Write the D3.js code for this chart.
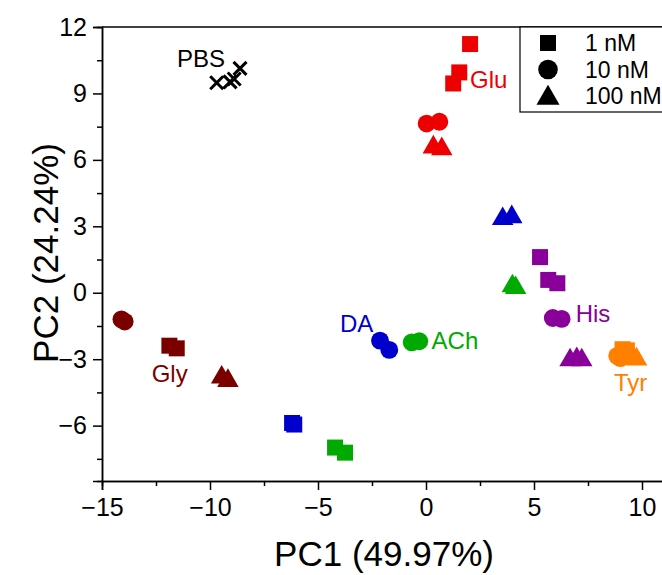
<!DOCTYPE html>
<html>
<head>
<meta charset="utf-8">
<script src="https://cdn.jsdelivr.net/npm/d3@7"></script>
<style>
  body { margin: 0; background: #fff; }
  svg { display: block; font-family: "Liberation Sans", Arial, sans-serif; }
</style>
</head>
<body>
<svg id="chart" width="662" height="575"></svg>
<script>
/* PCA score plot - neurotransmitters at 3 concentrations */

// analyte colours
var analytes = ["PBS", "Glu", "Gly", "DA", "ACh", "His", "Tyr"];
var colors = ["#000000", "#ee0000", "#7a0000", "#0000cc", "#00aa00", "#880099", "#ff8000"];

// [analyte, PC1, PC2]
var pbs = [
  ["PBS", -9.69, 9.48], ["PBS", -9.07, 9.52], ["PBS", -8.88, 9.65], ["PBS", -8.61, 10.13]
];
var nM1 = [
  ["Glu", 2.04, 11.23], ["Glu", 1.54, 9.95], ["Glu", 1.26, 9.45],
  ["Gly", -11.88, -2.39], ["Gly", -11.54, -2.51],
  ["DA", -6.2, -5.88], ["DA", -6.1, -5.95],
  ["ACh", -4.21, -6.99], ["ACh", -3.75, -7.22],
  ["His", 5.28, 1.61], ["His", 5.66, 0.58], ["His", 6.08, 0.43],
  ["Tyr", 9.1, -2.55], ["Tyr", 9.3, -2.6]
];
var nM10 = [
  ["Glu", 0.03, 7.64], ["Glu", 0.62, 7.72],
  ["Gly", -14.1, -1.2], ["Gly", -13.95, -1.3],
  ["DA", -2.13, -2.16], ["DA", -1.70, -2.58],
  ["ACh", -0.66, -2.24], ["ACh", -0.31, -2.19],
  ["His", 5.87, -1.14], ["His", 6.28, -1.18],
  ["Tyr", 8.85, -2.85], ["Tyr", 9.0, -2.95]
];
var nM100 = [
  ["Glu", 0.34, 6.57], ["Glu", 0.73, 6.49],
  ["Gly", -9.46, -3.82], ["Gly", -9.17, -3.97],
  ["DA", 3.55, 3.34], ["DA", 3.97, 3.42],
  ["ACh", 4.0, 0.3], ["ACh", 4.15, 0.22],
  ["His", 6.67, -3.04], ["His", 6.98, -2.99], ["His", 7.21, -3.04],
  ["Tyr", 9.6, -2.95], ["Tyr", 9.75, -3.0]
];

// text labels [analyte, PC1, PC2, anchor]
var labels = [
  ["PBS", -10.42, 10.2, "middle"],
  ["Glu", 2.04, 9.25, "start"],
  ["Gly", -12.7, -4.05, "start"],
  ["DA", -3.98, -1.79, "start"],
  ["ACh", 0.26, -2.54, "start"],
  ["His", 6.93, -1.33, "start"],
  ["Tyr", 8.7, -4.45, "start"]
];

var xTicks = [-15, -10, -5, 0, 5, 10];
var yTicks = [-6, -3, 0, 3, 6, 9, 12];
var legendNames = ["1 nM", "10 nM", "100 nM"];

var svg = d3.select("#chart");
var mLeft = 102, mTop = 27, mBottom = 481;

var x = d3.scaleLinear().domain([-15, 11]).range([mLeft, 663.6]);
var y = d3.scaleLinear().domain([-8.5, 12]).range([mBottom, mTop]);
var color = d3.scaleOrdinal().domain(analytes).range(colors);
var fmt = d3.format("d");

// axes
var minorX = d3.range(-15, 11.1, 2.5).filter(function(v){ return xTicks.indexOf(v) < 0; });
var minorY = d3.range(-7.5, 12.1, 1.5).filter(function(v){ return yTicks.indexOf(v) < 0; });

var gx = svg.append("g").attr("transform", "translate(0," + mBottom + ")")
    .call(d3.axisBottom(x).tickValues(xTicks).tickSize(9).tickPadding(5).tickFormat(fmt));
svg.append("g").attr("transform", "translate(0," + mBottom + ")")
    .call(d3.axisBottom(x).tickValues(minorX).tickSize(5).tickFormat(""));
var gy = svg.append("g").attr("transform", "translate(" + mLeft + ",0)")
    .call(d3.axisLeft(y).tickValues(yTicks).tickSize(9).tickPadding(6).tickFormat(fmt));
svg.append("g").attr("transform", "translate(" + mLeft + ",0)")
    .call(d3.axisLeft(y).tickValues(minorY).tickSize(5).tickFormat(""));

svg.selectAll(".domain").attr("stroke", "#000").attr("stroke-width", 1.5);
svg.selectAll(".tick line").attr("stroke", "#000").attr("stroke-width", 1.5);
svg.selectAll(".tick text").attr("fill", "#000").style("font-size", "25px")
    .style("font-family", "\"Liberation Sans\", Arial, sans-serif");
gx.selectAll(".tick text").attr("dy", "0.85em");

// top frame line
svg.append("line")
    .attr("x1", mLeft).attr("x2", 700).attr("y1", mTop).attr("y2", mTop)
    .attr("stroke", "#000").attr("stroke-width", 1.5);

// axis titles
svg.append("text").attr("x", 384).attr("y", 566)
    .attr("text-anchor", "middle").style("font-size", "35px").text("PC1 (49.97%)");
svg.append("text")
    .attr("transform", "translate(58,253) rotate(-90)")
    .attr("text-anchor", "middle").style("font-size", "35px").text("PC2 (24.24%)");

// markers
var plot = svg.append("g");
function drawSet(data, type, size){
  plot.selectAll(null).data(data).enter().append("path")
    .attr("d", d3.symbol().type(type).size(size))
    .attr("transform", function(d){ return "translate(" + x(d[1]) + "," + y(d[2]) + ")"; })
    .attr("fill", function(d){ return color(d[0]); });
}
drawSet(nM1, d3.symbolSquare, 256);
drawSet(nM10, d3.symbolCircle, 250);
drawSet(nM100, d3.symbolTriangle, 200);

plot.selectAll(null).data(pbs).enter().append("path")
  .attr("d", function(d){
    var cx = x(d[1]), cy = y(d[2]), r = 6.5;
    return "M" + (cx - r) + "," + (cy - r) + "L" + (cx + r) + "," + (cy + r) +
      "M" + (cx - r) + "," + (cy + r) + "L" + (cx + r) + "," + (cy - r);
  })
  .attr("stroke", "#000").attr("stroke-width", 3).attr("fill", "none");

// labels
svg.selectAll(null).data(labels).enter().append("text")
  .attr("x", function(d){ return x(d[1]); })
  .attr("y", function(d){ return y(d[2]); })
  .attr("text-anchor", function(d){ return d[3]; })
  .attr("fill", function(d){ return color(d[0]); })
  .style("font-size", "24px")
  .text(function(d){ return d[0]; });

// legend
var leg = svg.append("g");
leg.append("rect").attr("x", 520).attr("y", mTop).attr("width", 200).attr("height", 85)
  .attr("fill", "#fff").attr("stroke", "#000").attr("stroke-width", 1.2);
var legTypes = [d3.symbolSquare, d3.symbolCircle, d3.symbolTriangle];
var legSizes = [256, 300, 230];
legendNames.forEach(function(n, i){
  var ly = 43 + i * 26.5;
  leg.append("path").attr("d", d3.symbol().type(legTypes[i]).size(legSizes[i]))
    .attr("transform", "translate(548," + (ly + (i == 2 ? 2 : 0)) + ")").attr("fill", "#000");
  leg.append("text").attr("x", 585).attr("y", ly + 8)
    .style("font-size", "23px").text(n);
});
</script>
</body>
</html>
